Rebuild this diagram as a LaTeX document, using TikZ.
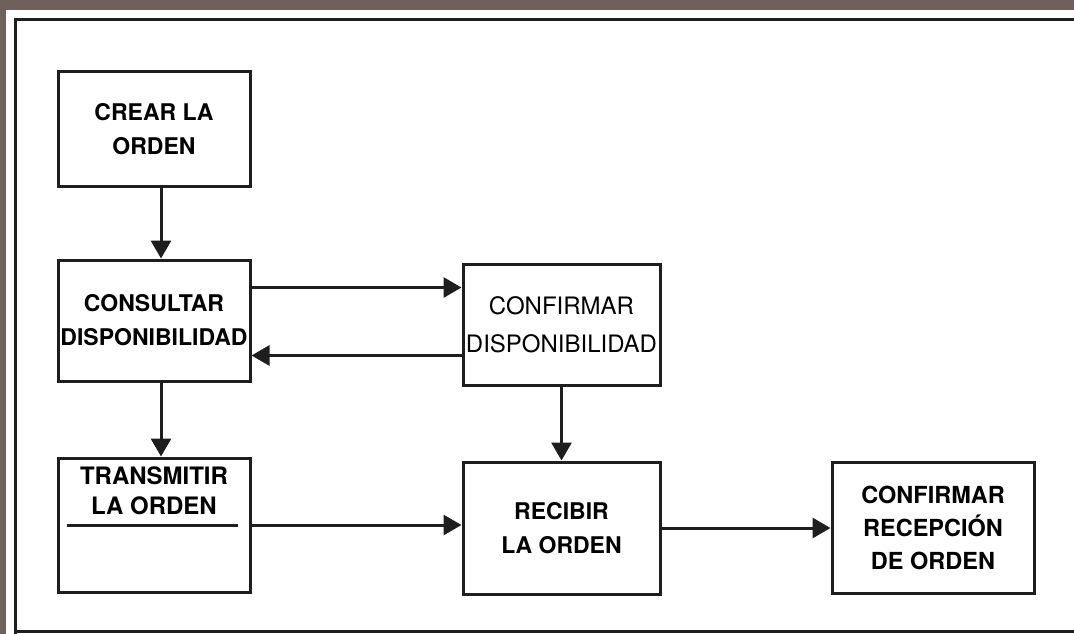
\documentclass[tikz,border=0pt]{standalone}
\usepackage{fontspec}
\setmainfont{TeX Gyre Heros}
\usetikzlibrary{arrows.meta,positioning}
\definecolor{bgtex}{HTML}{6F605B}
\definecolor{ink}{HTML}{1E1E1E}

\begin{document}
\begin{tikzpicture}[x=1pt,y=-1pt,>={Triangle[length=18pt,width=20pt]},
    line width=3pt,draw=ink,
    box/.style={rectangle,draw=ink,line width=3pt,fill=white,align=center,
      inner xsep=1pt,minimum width=192pt,font=\bfseries\fontsize{23}{34}\selectfont},
    thin box/.style={box,font=\fontsize{24}{38}\selectfont},
    link/.style={->,ink,line width=3pt}]
    \useasboundingbox (0,0) rectangle (1074,634);
    \fill[bgtex] (0,0) rectangle (1074,634);
    \fill[white] (6,10) rectangle (1074,634);
    \draw[line width=3pt,ink] (15,634) -- (15,20) -- (1074,20);
    \draw[line width=3pt,ink] (15,631) -- (1074,631);

    \node[box,minimum height=114pt] (crear) at (154,129) {CREAR LA\\ORDEN};
    \node[box,minimum height=121pt] (consultar) [below=71pt of crear] {CONSULTAR\\DISPONIBILIDAD};
    \node[box,minimum height=134pt] (transmitir) [below=74pt of consultar] {};
    \node[thin box,minimum width=197pt,minimum height=121pt] (confdisp) [right=210pt of consultar,yshift=-4pt] {CONFIRMAR\\DISPONIBILIDAD};
    \node[box,minimum width=197pt,minimum height=132pt] (recibir) [below=74pt of confdisp] {RECIBIR\\LA ORDEN};
    \node[box,minimum width=202pt,minimum height=131pt,font=\bfseries\fontsize{23.5}{33}\selectfont] (confrecep) [right=169pt of recibir] {CONFIRMAR\\RECEPCIÓN\\DE ORDEN};
    \node[align=center,inner sep=0pt,font=\bfseries\fontsize{24}{30}\selectfont] (txlabel)
      [below=9pt of transmitir.north] {TRANSMITIR\\LA ORDEN};
    \draw[line width=3pt,ink] ([xshift=10pt]transmitir.west) -- ([xshift=-14pt]transmitir.east);

    \draw[link] ([xshift=7pt]crear.south) -- ([xshift=7pt]consultar.north);
    \draw[link] ([xshift=7pt]consultar.south) -- ([xshift=7pt]transmitir.north);
    \draw[link] ([yshift=33pt]consultar.east) -- ([yshift=33pt]consultar.east -| confdisp.west);
    \draw[link] ([yshift=-35pt]consultar.east -| confdisp.west) -- ([yshift=-35pt]consultar.east);
    \draw[link] (confdisp) -- (recibir);
    \draw[link] (transmitir.east) -- (transmitir.east -| recibir.west);
    \draw[link] (recibir) -- (confrecep);
\end{tikzpicture}
\end{document}
